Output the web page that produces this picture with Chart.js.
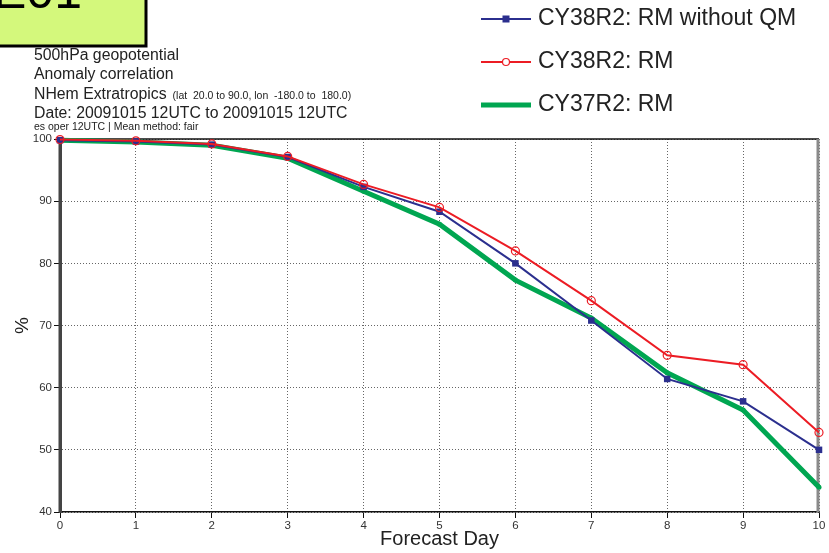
<!DOCTYPE html>
<html>
<head>
<meta charset="utf-8">
<script src="https://cdn.jsdelivr.net/npm/chart.js@4"></script>
<style>
  body { margin: 0; background: #fff; }
  canvas { display: block; }
</style>
</head>
<body>
<canvas id="acChart" width="829" height="553"></canvas>
<script>
// Forecast days and anomaly correlation values (%)
const days = [0, 1, 2, 3, 4, 5, 6, 7, 8, 9, 10];
const rmWithoutQm = [99.8, 99.6, 99.1, 97.1, 92.3, 88.3, 80.0, 70.8, 61.4, 57.8, 50.0];
const rm38 = [99.9, 99.7, 99.2, 97.2, 92.7, 89.0, 82.0, 74.0, 65.2, 63.7, 52.8];
const rm37 = [99.8, 99.5, 99.0, 96.9, 91.6, 86.3, 77.3, 71.2, 62.4, 56.4, 44.0];

const seriesLabels = ['CY38R2: RM without QM', 'CY38R2: RM', 'CY37R2: RM'];
const yTicks = [40, 50, 60, 70, 80, 90, 100];

const titleLines = [
    '500hPa geopotential',
    'Anomaly correlation',
    'NHem Extratropics',
    'Date: 20091015 12UTC to 20091015 12UTC'
];
const regionNote = '(lat  20.0 to 90.0, lon  -180.0 to  180.0)';
const methodNote = 'es oper 12UTC | Mean method: fair';
const panelTag = 'E01';

const FONT = "'Liberation Sans', Arial, Helvetica, sans-serif";

const toPoints = vals => vals.map((v, i) => ({ x: days[i], y: v }));

// Text, legend and frame drawn on top of the chart
const decorPlugin = {
    id: 'decor',
    beforeDatasetsDraw(chart) {
        const { ctx, chartArea: a } = chart;
        ctx.save();
        // top frame line
        ctx.strokeStyle = '#111';
        ctx.lineWidth = 1.5;
        ctx.beginPath();
        ctx.moveTo(a.left, a.top);
        ctx.lineTo(a.right, a.top);
        ctx.stroke();
        // right frame line
        ctx.strokeStyle = '#8a8a8a';
        ctx.lineWidth = 3;
        ctx.beginPath();
        ctx.moveTo(a.right - 1, a.top);
        ctx.lineTo(a.right - 1, a.bottom);
        ctx.stroke();
        // left axis, solid dark grey
        ctx.strokeStyle = '#444';
        ctx.lineWidth = 3;
        ctx.beginPath();
        ctx.moveTo(a.left, a.top);
        ctx.lineTo(a.left, a.bottom);
        ctx.stroke();
        ctx.restore();
    },
    afterDraw(chart) {
        const { ctx, chartArea: a } = chart;
        ctx.save();

        // yellow tag box in the corner
        ctx.fillStyle = '#d4f87c';
        ctx.fillRect(-2, -2, 148, 48);
        ctx.strokeStyle = '#000';
        ctx.lineWidth = 3;
        ctx.strokeRect(-2, -2, 148, 48);
        ctx.fillStyle = '#000';
        ctx.font = '50px ' + FONT;
        ctx.textBaseline = 'alphabetic';
        ctx.textAlign = 'left';
        ctx.fillText(panelTag, -7, 8);

        // title block
        ctx.fillStyle = '#222';
        ctx.font = '15.8px ' + FONT;
        const baselines = [60, 79, 99, 118];
        titleLines.forEach((t, i) => ctx.fillText(t, 34, baselines[i]));
        const w = ctx.measureText(titleLines[2]).width;
        ctx.font = '10.5px ' + FONT;
        ctx.fillText(regionNote, 34 + w + 6, 99);
        ctx.fillText(methodNote, 34, 130);

        // axis titles
        ctx.font = '20px ' + FONT;
        ctx.textAlign = 'center';
        ctx.fillText('Forecast Day', (a.left + a.right) / 2, 545);
        ctx.save();
        ctx.translate(23, (a.top + a.bottom) / 2);
        ctx.rotate(-Math.PI / 2);
        ctx.textBaseline = 'middle';
        ctx.font = '19px ' + FONT;
        ctx.fillText('%', 0, 0);
        ctx.restore();

        // legend
        const rows = [19, 62, 105];
        chart.data.datasets.forEach((ds, i) => {
            const y = rows[i];
            ctx.strokeStyle = ds.borderColor;
            ctx.lineWidth = ds.borderWidth;
            ctx.beginPath();
            ctx.moveTo(481, y);
            ctx.lineTo(531, y);
            ctx.stroke();
            ctx.fillStyle = ds.pointBorderColor;
            ctx.strokeStyle = ds.pointBorderColor;
            ctx.lineWidth = 1.2;
            if (ds.pointStyle === 'rect') {
                ctx.fillRect(506 - 3.5, y - 3.5, 7, 7);
            } else if (ds.pointBackgroundColor === 'transparent') {
                ctx.fillStyle = '#fff';
                ctx.beginPath();
                ctx.arc(506, y, ds.legendRadius, 0, Math.PI * 2);
                ctx.fill();
                ctx.stroke();
            } else {
                ctx.beginPath();
                ctx.arc(506, y, ds.legendRadius, 0, Math.PI * 2);
                ctx.fill();
            }
            ctx.fillStyle = '#222';
            ctx.font = '23px ' + FONT;
            ctx.textAlign = 'left';
            ctx.textBaseline = 'middle';
            ctx.fillText(ds.label, 538, y);
        });

        ctx.restore();
    }
};

const ctx = document.getElementById('acChart').getContext('2d');
const acChart = new Chart(ctx, {
    type: 'line',
    data: {
        datasets: [{
            label: seriesLabels[0],
            data: toPoints(rmWithoutQm),
            borderColor: '#2b2f8e',
            borderWidth: 2,
            pointStyle: 'rect',
            pointRadius: 4.6,
            pointBackgroundColor: '#2b2f8e',
            pointBorderColor: '#2b2f8e',
            pointBorderWidth: 0,
            legendRadius: 3.5,
            clip: false,
            order: 2
        }, {
            label: seriesLabels[1],
            data: toPoints(rm38),
            borderColor: '#ec1c24',
            borderWidth: 2,
            pointStyle: 'circle',
            pointRadius: 4,
            pointBackgroundColor: 'transparent',
            pointBorderColor: '#ec1c24',
            pointBorderWidth: 1.2,
            legendRadius: 3.5,
            clip: false,
            order: 1
        }, {
            label: seriesLabels[2],
            data: toPoints(rm37),
            borderColor: '#00a651',
            borderWidth: 5,
            pointStyle: 'circle',
            pointRadius: 2.5,
            pointBackgroundColor: '#00a651',
            pointBorderColor: '#00a651',
            pointBorderWidth: 0,
            legendRadius: 2,
            clip: false,
            order: 3
        }]
    },
    options: {
        responsive: false,
        animation: false,
        events: [],
        layout: {
            padding: { top: 139, right: 10, left: 0, bottom: 0 }
        },
        plugins: {
            legend: { display: false },
            tooltip: { enabled: false }
        },
        scales: {
            x: {
                type: 'linear',
                min: days[0],
                max: days[days.length - 1],
                afterFit(scale) { scale.height = 41; },
                ticks: {
                    stepSize: 1,
                    color: '#333',
                    padding: 1,
                    maxRotation: 0,
                    font: { family: FONT, size: 11.5 }
                },
                grid: {
                    color: '#666',
                    lineWidth: 1,
                    tickColor: '#111',
                    tickLength: 6
                },
                border: { color: '#111', width: 1.5, dash: [1, 2] }
            },
            y: {
                min: yTicks[0],
                max: yTicks[yTicks.length - 1],
                afterFit(scale) { scale.width = 60; },
                afterBuildTicks(scale) { scale.ticks = yTicks.map(v => ({ value: v })); },
                ticks: {
                    color: '#333',
                    padding: 2,
                    font: { family: FONT, size: 11.5 }
                },
                grid: {
                    color: '#666',
                    lineWidth: 1,
                    tickColor: '#111',
                    tickLength: 6
                },
                border: { color: '#444', width: 3, dash: [1, 2] }
            }
        }
    },
    plugins: [decorPlugin]
});
</script>
</body>
</html>
